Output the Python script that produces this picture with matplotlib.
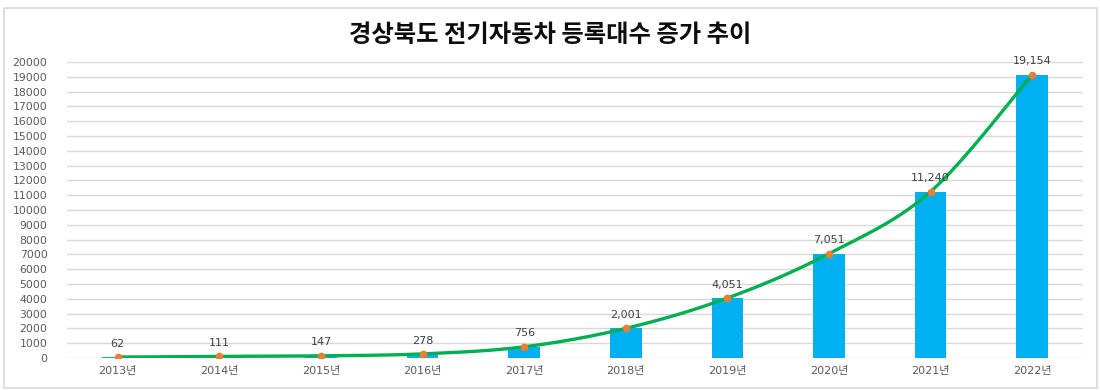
import numpy as np
import matplotlib
matplotlib.use("Agg")
import matplotlib.pyplot as plt
from matplotlib.patches import Rectangle

plt.rcParams['font.family'] = ['DejaVu Sans', 'Noto Sans CJK KR']

title = "경상북도 전기자동차 등록대수 증가 추이"
years = ["2013년", "2014년", "2015년", "2016년", "2017년", "2018년", "2019년", "2020년", "2021년", "2022년"]
counts = [62, 111, 147, 278, 756, 2001, 4051, 7051, 11240, 19154]
yticks = list(range(0, 20001, 1000))

bar_color = "#00B0F0"
line_color = "#00B050"
marker_color = "#ED7D31"
grey = "#595959"

fig = plt.figure(figsize=(11, 3.9), dpi=100)
fig.patches.append(Rectangle((4/1100, 2/390), 1093/1100, 380/390, transform=fig.transFigure,
                             fill=False, edgecolor="#D9D9D9", linewidth=1.2))
ax = fig.add_axes([67/1100, 32/390, 1016/1100, 296/390])

x = np.arange(len(years))
y = np.array(counts, dtype=float)
ax.bar(x, y, width=0.31, color=bar_color, zorder=2)

# Smoothed line (Catmull-Rom style Bezier, like Excel's smoothed line)
xs, ys = [], []
n = len(x)
t = np.linspace(0, 1, 30)
for i in range(n - 1):
    p0 = np.array([x[i], y[i]])
    p3 = np.array([x[i+1], y[i+1]])
    pm = np.array([x[i-1], y[i-1]]) if i > 0 else p0
    pp = np.array([x[i+2], y[i+2]]) if i + 2 < n else p3
    p1 = p0 + (p3 - pm) / 6
    p2 = p3 - (pp - p0) / 6
    for tt in t:
        b = (1-tt)**3*p0 + 3*(1-tt)**2*tt*p1 + 3*(1-tt)*tt**2*p2 + tt**3*p3
        xs.append(b[0]); ys.append(b[1])
ax.plot(xs, ys, color=line_color, linewidth=2.4, zorder=3, solid_capstyle='round')
ax.plot(x, y, linestyle='none', marker='o', markersize=4.5, markerfacecolor=marker_color,
        markeredgecolor=marker_color, zorder=4)

for xi, v in zip(x, counts):
    ax.annotate(f"{v:,}", (xi, v), xytext=(0, 6), textcoords="offset points",
                ha="center", va="bottom", fontsize=8, color="#404040", zorder=5)

ax.set_xlim(-0.5, 9.5)
ax.set_ylim(0, 20000)
ax.set_yticks(yticks)
ax.set_yticklabels([str(v) for v in yticks], fontsize=7.8, color=grey)
ax.set_xticks(x)
ax.set_xticklabels(years, fontsize=8, color=grey)
ax.tick_params(axis='both', length=0)
ax.tick_params(axis='y', pad=14)
ax.tick_params(axis='x', pad=6)
ax.grid(axis='y', color="#D9D9D9", linewidth=1, zorder=0)
ax.set_axisbelow(True)
for s in ax.spines.values():
    s.set_visible(False)

fig.text(0.5, 1 - 35/390, title, ha="center", va="center", fontsize=17.5, fontweight="bold",
         color="#0D0D0D", family=['Noto Sans CJK KR'])

fig.savefig("out.png", dpi=100)
